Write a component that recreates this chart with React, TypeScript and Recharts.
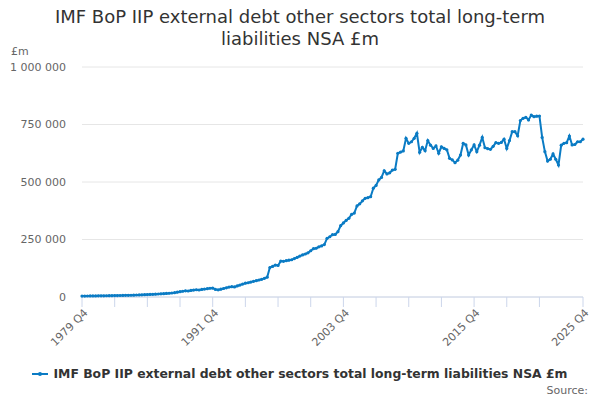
import { LineChart, Line, XAxis, YAxis, CartesianGrid } from "recharts";

// Quarterly series, 1979 Q4 to 2025 Q4 (£m).
const years = Array.from({ length: 46 }, (_, k) => 1980 + k);

const start1979Q4 = 4000;

const quarterly: number[][] = [
  [4200, 4300, 4500, 4600], // 1980
  [4800, 5000, 5100, 5300],
  [5500, 5600, 5800, 6000],
  [6300, 6500, 6800, 7100],
  [7400, 7700, 8100, 8600],
  [9000, 9400, 9900, 10500], // 1985
  [11000, 11600, 12300, 13000],
  [13700, 14500, 15400, 16300],
  [17500, 19000, 21000, 23000],
  [25000, 27000, 26000, 28500],
  [30000, 31500, 30500, 33000], // 1990
  [34500, 36000, 38000, 39000],
  [33000, 31000, 34000, 37000],
  [40000, 43000, 45000, 44000],
  [48000, 52000, 56000, 60000],
  [62000, 65000, 68000, 71000], // 1995
  [74000, 77000, 81000, 86000],
  [128000, 133000, 139000, 137000],
  [156000, 155000, 158000, 160000],
  [162000, 167000, 172000, 178000],
  [183000, 187000, 192000, 201000], // 2000
  [210000, 212000, 218000, 222000],
  [228000, 255000, 262000, 271000],
  [272000, 284000, 310000, 322000],
  [333000, 342000, 359000, 365000],
  [396000, 405000, 418000, 429000], // 2005
  [432000, 436000, 473000, 485000],
  [509000, 520000, 549000, 535000],
  [540000, 552000, 555000, 625000],
  [630000, 635000, 690000, 668000],
  [675000, 690000, 712000, 629000], // 2010
  [651000, 636000, 680000, 660000],
  [646000, 657000, 625000, 653000],
  [646000, 640000, 603000, 596000],
  [584000, 595000, 617000, 668000],
  [661000, 617000, 640000, 661000], // 2015
  [632000, 660000, 694000, 649000],
  [645000, 642000, 655000, 671000],
  [668000, 672000, 686000, 646000],
  [680000, 719000, 719000, 701000],
  [767000, 777000, 781000, 770000], // 2020
  [791000, 784000, 786000, 787000],
  [694000, 632000, 591000, 599000],
  [622000, 599000, 574000, 660000],
  [668000, 671000, 700000, 661000],
  [663000, 675000, 675000, 686000], // 2025
];

const xTicks = [
  "1979 Q4", "1982 Q4", "1985 Q4", "1988 Q4", "1991 Q4", "1994 Q4", "1997 Q4",
  "2000 Q4", "2003 Q4", "2006 Q4", "2009 Q4", "2012 Q4", "2015 Q4", "2018 Q4",
  "2021 Q4", "2025 Q4",
];
const xLabels = ["1979 Q4", "1991 Q4", "2003 Q4", "2015 Q4", "2025 Q4"];
const yTicks = [0, 250000, 500000, 750000, 1000000];

const TITLE =
  "IMF BoP IIP external debt other sectors total long-term liabilities NSA £m";
const BLUE = "#0a7bc4";
const FONT = "'DejaVu Sans', sans-serif";

const data = [
  { label: "1979 Q4", value: start1979Q4 },
  ...years.flatMap((y, k) =>
    quarterly[k].map((v, q) => ({ label: `${y} Q${q + 1}`, value: v }))
  ),
];

const spaced = (n: number) => String(n).replace(/\B(?=(\d{3})+(?!\d))/g, " ");

function XTick({ x, y, payload }: any) {
  if (!xLabels.includes(payload.value)) return null;
  const tx = x + 4;
  const ty = y + 2;
  return (
    <text
      x={tx}
      y={ty}
      transform={`rotate(-45 ${tx} ${ty})`}
      textAnchor="end"
      dominantBaseline="central"
      fill="#666"
      fontSize={11}
      fontFamily={FONT}
    >
      {payload.value}
    </text>
  );
}

export default function App() {
  return (
    <div
      style={{
        position: "absolute",
        left: 0,
        top: 0,
        width: 600,
        height: 400,
        background: "#fff",
        fontFamily: FONT,
      }}
    >
      <div
        style={{
          position: "absolute",
          top: 6,
          left: 40,
          width: 520,
          textAlign: "center",
          fontSize: 18,
          lineHeight: "22px",
          color: "#333",
        }}
      >
        {TITLE}
      </div>
      <div style={{ position: "absolute", left: 11, top: 45, fontSize: 11, color: "#666" }}>
        £m
      </div>
      <LineChart
        width={600}
        height={400}
        data={data}
        margin={{ top: 67, right: 17, bottom: 53, left: 0 }}
      >
        <CartesianGrid vertical={false} stroke="#e6e6e6" />
        <XAxis
          dataKey="label"
          ticks={xTicks}
          interval={0}
          tick={<XTick />}
          tickSize={10}
          tickLine={{ stroke: "#ccd6eb" }}
          axisLine={{ stroke: "#ccd6eb" }}
          height={50}
        />
        <YAxis
          width={82}
          domain={[0, 1000000]}
          ticks={yTicks}
          tickFormatter={spaced}
          axisLine={false}
          tickLine={false}
          tickMargin={10}
          tick={{ fill: "#666", fontSize: 11, fontFamily: FONT }}
        />
        <Line
          type="linear"
          dataKey="value"
          stroke={BLUE}
          strokeWidth={2}
          dot={{ r: 1.6, fill: BLUE, stroke: BLUE, strokeWidth: 0 }}
          isAnimationActive={false}
        />
      </LineChart>
      <div
        style={{
          position: "absolute",
          top: 366,
          left: 0,
          width: 600,
          display: "flex",
          justifyContent: "center",
          alignItems: "center",
          fontSize: 12.4,
          fontWeight: "bold",
          color: "#333",
        }}
      >
        <svg width={16} height={10} style={{ marginRight: 5 }}>
          <line x1={0} y1={5} x2={16} y2={5} stroke={BLUE} strokeWidth={2} />
          <circle cx={8} cy={5} r={2} fill={BLUE} />
        </svg>
        {TITLE}
      </div>
      <div
        style={{
          position: "absolute",
          right: 12,
          top: 384,
          fontSize: 11,
          color: "#666",
        }}
      >
        Source:
      </div>
    </div>
  );
}
